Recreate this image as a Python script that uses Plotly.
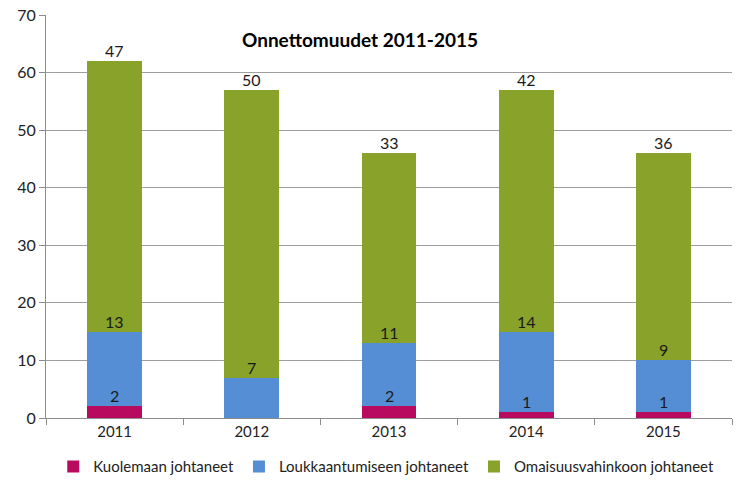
import plotly.graph_objects as go

years = ["2011", "2012", "2013", "2014", "2015"]
kuolema = [2, 0, 2, 1, 1]
loukkaantuminen = [13, 7, 11, 14, 9]
omaisuus = [47, 50, 33, 42, 36]
series_names = ["Kuolemaan johtaneet", "Loukkaantumiseen johtaneet", "Omaisuusvahinkoon johtaneet"]
colors = ["#B80A5E", "#558ED5", "#88A22A"]
title_text = "Onnettomuudet 2011-2015"

FONT = "Lato, 'Open Sans', sans-serif"

fig = go.Figure()
series = [kuolema, loukkaantuminen, omaisuus]
for name, vals, col in zip(series_names, series, colors):
    fig.add_trace(go.Bar(x=years, y=vals, name=name, marker=dict(color=col, line=dict(width=0)),
                         width=0.4))

# data labels just above each segment's top (x given as category index)
cum = [0] * len(years)
for vals in series:
    for i, v in enumerate(vals):
        cum[i] += v
        if v > 0:
            fig.add_annotation(x=i, y=cum[i], text=str(v), showarrow=False,
                               yanchor="bottom", yshift=-1,
                               font=dict(family=FONT, size=16, color="#1a1a1a"))

fig.add_annotation(xref="paper", yref="paper", x=0.458, y=0.94,
                   xanchor="center", yanchor="middle",
                   text="<b>" + title_text + "</b>", showarrow=False,
                   font=dict(family=FONT, size=19, color="#000000"))

fig.update_layout(
    barmode="stack",
    width=750, height=495,
    margin=dict(l=46, r=18, t=15, b=77, autoexpand=False),
    paper_bgcolor="white", plot_bgcolor="white",
    font=dict(family=FONT, size=14, color="#222222"),
    showlegend=True,
    legend=dict(orientation="h", x=0.515, xanchor="center", xref="container",
                y=0.057, yanchor="middle", yref="container",
                font=dict(family=FONT, size=15, color="#222222"), traceorder="normal",
                itemwidth=30),
    xaxis=dict(type="category", categoryorder="array", categoryarray=years,
               range=[-0.5, len(years) - 0.5], showgrid=False, showline=True,
               linecolor="#8C8C8C", linewidth=1,
               ticks="outside", tickson="boundaries", ticklen=6, tickcolor="#8C8C8C",
               tickfont=dict(family=FONT, size=15, color="#222222")),
    yaxis=dict(range=[0, 70], dtick=10, showgrid=True, gridcolor="#9E9E9E", gridwidth=1,
               showline=True, linecolor="#8C8C8C", linewidth=1,
               ticks="outside", ticklen=6, tickcolor="#8C8C8C", zeroline=False,
               tickfont=dict(family=FONT, size=16, color="#222222")),
)

fig.write_html("out.html", config={"displayModeBar": False},
               post_script="document.body.style.margin='0';")
